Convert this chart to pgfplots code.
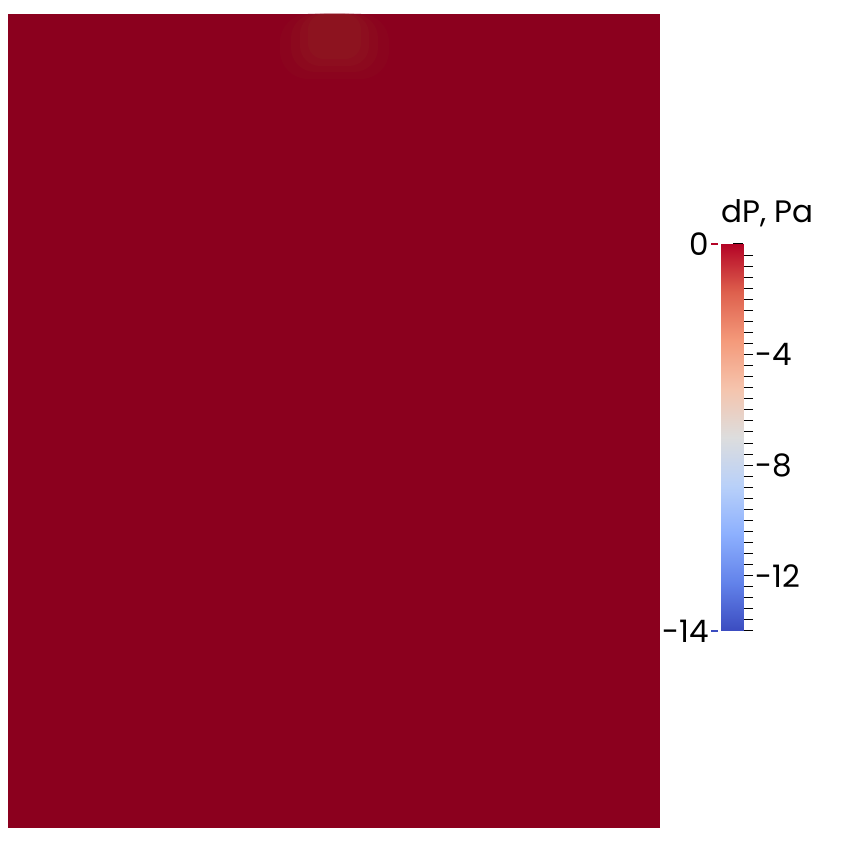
\documentclass[border=0pt]{standalone}
\usepackage{pgfplots}
\pgfplotsset{compat=1.18}
\usepackage{fontspec}
\setmainfont{Poppins}
\definecolor{fieldred}{RGB}{139,0,30}
\definecolor{blob1}{RGB}{139,4,30}
\definecolor{blob2}{RGB}{140,9,30}
\definecolor{blob3}{RGB}{141,14,31}
\definecolor{blob4}{RGB}{141,19,31}
\definecolor{tickred}{RGB}{180,4,38}
\definecolor{tickblue}{RGB}{59,76,192}
\pgfplotsset{
  colormap={cooltowarm}{
    rgb255=(59,76,192) rgb255=(98,130,234) rgb255=(141,176,254)
    rgb255=(184,208,249) rgb255=(221,221,221) rgb255=(245,196,173)
    rgb255=(244,154,123) rgb255=(222,96,77) rgb255=(180,4,38)
  },
}

\begin{document}
\begin{tikzpicture}
\useasboundingbox (0,0) rectangle (420pt,425pt);
% field, in pixel coordinates of the render
\begin{axis}[
  at={(0,0)}, anchor=south west,
  scale only axis, width=420pt, height=425pt,
  xmin=0, xmax=840, ymin=0, ymax=850, y dir=reverse,
  hide axis, clip=false,
]
\addplot[fill=fieldred, draw=none] coordinates {(8,14) (660,14) (660,828) (8,828)} -- cycle;
\addplot[fill=blob1, draw=none, rounded corners=14pt] coordinates {(280,14) (389,14) (389,79) (280,79)} -- cycle;
\addplot[fill=blob2, draw=none, rounded corners=12pt] coordinates {(291,14) (378,14) (378,72) (291,72)} -- cycle;
\addplot[fill=blob3, draw=none, rounded corners=10pt] coordinates {(300,14) (369,14) (369,66) (300,66)} -- cycle;
\addplot[fill=blob4, draw=none, rounded corners=8pt] coordinates {(308,14) (361,14) (361,59) (308,59)} -- cycle;
\end{axis}
% colour bar
\begin{axis}[
  at={(360.5pt,109.5pt)}, anchor=south west,
  scale only axis, width=11pt, height=193.5pt,
  xmin=0, xmax=1, ymin=-14, ymax=0,
  colormap name=cooltowarm, point meta min=-14, point meta max=0,
  hide x axis, axis y line*=right,
  y axis line style={draw=none},
  ytick={-12,-8,-4}, yticklabels={-12,-8,-4},
  minor ytick={-14,-13.6,...,-0.3,0},
  tick align=center, major tick length=10pt, minor tick length=10pt,
  major tick style={black, line width=0.5pt},
  minor tick style={black, line width=0.5pt, shorten <=5pt},
  yticklabel style={font=\fontsize{15.5}{17}\selectfont, inner sep=1pt},
  clip=false,
]
\addplot[surf, shader=interp, point meta=y] coordinates {
  (0,-14) (1,-14)

  (0,-12.25) (1,-12.25)

  (0,-10.5) (1,-10.5)

  (0,-8.75) (1,-8.75)

  (0,-7) (1,-7)

  (0,-5.25) (1,-5.25)

  (0,-3.5) (1,-3.5)

  (0,-1.75) (1,-1.75)

  (0,0) (1,0)
};
\addplot[tickred, line width=0.6pt] coordinates {(-0.45,0) (-0.12,0)};
\addplot[tickblue, line width=0.6pt] coordinates {(-0.45,-14) (-0.12,-14)};
\node[anchor=east, inner sep=0pt, font=\fontsize{15.5}{17}\selectfont] at (axis cs:-0.55,0) {0};
\node[anchor=east, inner sep=0pt, font=\fontsize{15.5}{17}\selectfont] at (axis cs:-0.55,-14) {-14};
\node[anchor=south west, inner sep=0pt, font=\fontsize{15.5}{17}\selectfont] at (axis cs:0,0.6) {dP, Pa};
\end{axis}
\end{tikzpicture}
\end{document}
